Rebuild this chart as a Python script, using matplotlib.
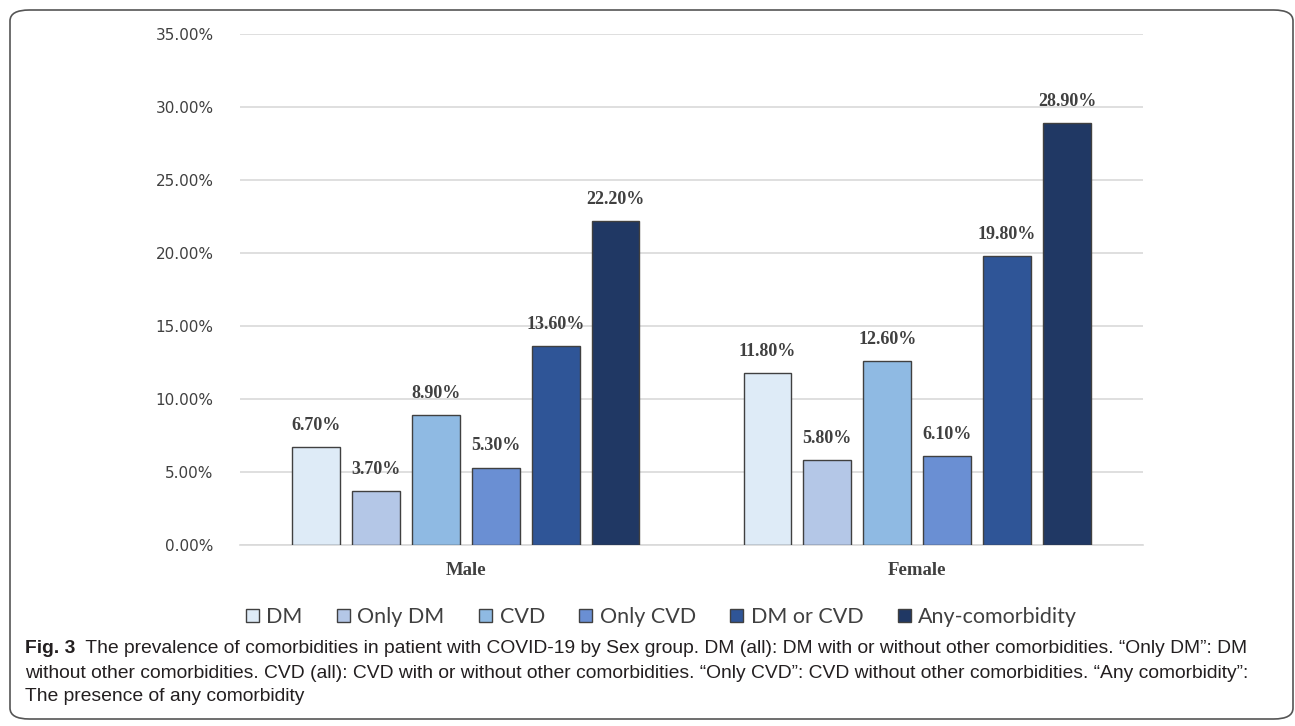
import matplotlib.pyplot as plt
import numpy as np
from matplotlib.patches import FancyBboxPatch
from matplotlib.ticker import FuncFormatter

groups = ["Male", "Female"]
series = ["DM", "Only DM", "CVD", "Only CVD", "DM or CVD", "Any-comorbidity"]
dm = [6.7, 11.8]
only_dm = [3.7, 5.8]
cvd = [8.9, 12.6]
only_cvd = [5.3, 6.1]
dm_or_cvd = [13.6, 19.8]
any_comorb = [22.2, 28.9]
colors = ["#DEEBF7", "#B4C7E7", "#8FBAE3", "#6A8FD3", "#2F5597", "#203864"]

values = [dm, only_dm, cvd, only_cvd, dm_or_cvd, any_comorb]

fig = plt.figure(figsize=(12.95, 7.26), dpi=100)
ax = fig.add_axes([0.1853, 0.2493, 0.6973, 0.7039])

x = np.arange(len(groups))
step = 0.1327
width = 0.106
for i, (name, vals) in enumerate(zip(series, values)):
    pos = x + (i - 2.5) * step
    ax.bar(pos, vals, width, color=colors[i], edgecolor="#404040",
           linewidth=1.0, label=name, zorder=3)
    for px, v in zip(pos, vals):
        ax.text(px, v + 0.9, f"{v:.2f}%", ha="center", va="bottom",
                fontsize=13, fontweight="bold", family="Liberation Serif",
                color="#404040")

ax.set_xlim(-0.5, 1.5)
ax.set_ylim(0, 35)
ax.set_yticks(np.arange(0, 36, 5))
ax.yaxis.set_major_formatter(FuncFormatter(lambda v, p: f"{v:.2f}%"))
ax.set_xticks(x)
ax.set_xticklabels(groups, fontsize=13.5, fontweight="bold",
                   family="Liberation Serif", color="#404040")
ax.tick_params(axis="y", length=0, pad=19, labelsize=11, labelcolor="#404040")
ax.tick_params(axis="x", length=0, pad=12)
ax.grid(axis="y", color="#D9D9D9", linewidth=1.2, zorder=0)
for s in ["top", "right", "left"]:
    ax.spines[s].set_visible(False)
ax.spines["bottom"].set_color("#D9D9D9")
ax.spines["bottom"].set_linewidth(1.2)

fig.legend(loc="center", bbox_to_anchor=(0.5108, 0.150), ncol=6, frameon=False,
           prop={"family": "Lato", "size": 15.5}, handlelength=0.6,
           handleheight=0.6, handletextpad=0.35, columnspacing=1.6,
           labelcolor="#404040")

# caption
cap = dict(fontsize=13.9, family="Liberation Sans", color="#231F20")
t = fig.text(0.0193, 0.107, "Fig. 3", fontweight="bold", va="center", **cap)
ax.annotate("  The prevalence of comorbidities in patient with COVID-19 by Sex group. "
            "DM (all): DM with or without other comorbidities. \u201cOnly DM\u201d: DM",
            xy=(1, 0), xycoords=t, va="bottom", annotation_clip=False, **cap)
fig.text(0.0193, 0.073,
         "without other comorbidities. CVD (all): CVD with or without other comorbidities. "
         "\u201cOnly CVD\u201d: CVD without other comorbidities. \u201cAny comorbidity\u201d:",
         va="center", **cap)
fig.text(0.0193, 0.040, "The presence of any comorbidity", va="center", **cap)

box = FancyBboxPatch((10 / 1295, 7 / 726), 1283 / 1295, 709 / 726,
                     boxstyle="round,pad=0,rounding_size=0.015",
                     transform=fig.transFigure, fill=False,
                     edgecolor="#555555", linewidth=1.2)
fig.add_artist(box)

fig.savefig("out.png", dpi=100)
